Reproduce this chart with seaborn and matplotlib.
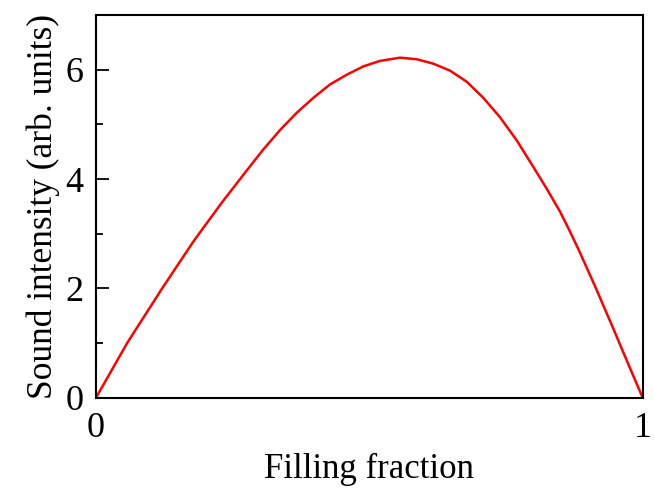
import matplotlib
matplotlib.use("Agg")
import matplotlib.pyplot as plt
import seaborn as sns
import pandas as pd
from matplotlib.ticker import MultipleLocator

filling_fraction = [0.0, 0.057, 0.121, 0.179, 0.231, 0.276, 0.306, 0.337, 0.367,
                    0.397, 0.428, 0.459, 0.489, 0.519, 0.556, 0.587, 0.617, 0.648,
                    0.678, 0.708, 0.739, 0.770, 0.800, 0.824, 0.849, 0.867, 0.885,
                    0.915, 0.946, 0.973, 1.0]
sound_intensity = [0.0, 1.0, 2.0, 2.87, 3.58, 4.16, 4.54, 4.90, 5.21,
                   5.48, 5.73, 5.91, 6.06, 6.16, 6.22, 6.19, 6.11, 5.98,
                   5.78, 5.49, 5.13, 4.70, 4.22, 3.83, 3.40, 3.04, 2.66,
                   1.99, 1.27, 0.63, 0.0]

df = pd.DataFrame({"Filling fraction": filling_fraction,
                   "Sound intensity": sound_intensity})

sns.set_style("ticks")
plt.rcParams["font.family"] = ["Liberation Serif", "DejaVu Serif"]
plt.rcParams["text.color"] = "black"
plt.rcParams["axes.labelcolor"] = "black"
plt.rcParams["xtick.color"] = "black"
plt.rcParams["ytick.color"] = "black"

fig = plt.figure(figsize=(6.54, 4.94), dpi=100)
ax = fig.add_axes([0.1468, 0.1949, 0.8359, 0.7747])

sns.lineplot(data=df, x="Filling fraction", y="Sound intensity", ax=ax,
             color="#ff0000", linewidth=1.8, sort=False)

ax.set_xlim(0, 1)
ax.set_ylim(0, 7)
ax.set_xticks([0, 1])
ax.set_xticklabels(["0", "1"])
ax.set_yticks([0, 2, 4, 6])
ax.yaxis.set_minor_locator(MultipleLocator(1))

for s in ax.spines.values():
    s.set_visible(True)
    s.set_linewidth(1.5)
    s.set_color("black")

ax.tick_params(axis="y", which="major", direction="in", length=9, width=1.3,
               labelsize=26, pad=9, colors="black")
ax.tick_params(axis="y", which="minor", direction="in", length=5, width=1.3)
ax.tick_params(axis="x", which="major", direction="in", length=0,
               labelsize=26, pad=10, colors="black")

ax.set_xlabel("Filling fraction", fontsize=25, labelpad=6, color="black")
ax.set_ylabel("Sound intensity (arb. units)", fontsize=25.5, labelpad=4, color="black")

fig.savefig("out.png", dpi=100)
